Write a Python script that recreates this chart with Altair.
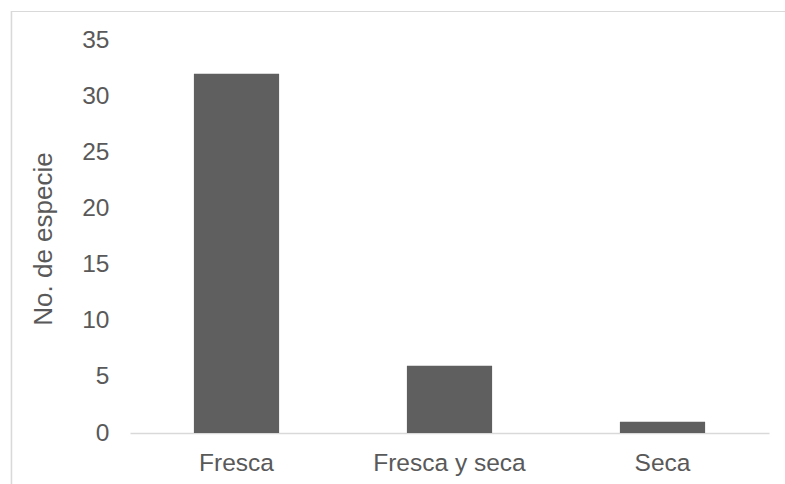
import altair as alt
import pandas as pd

# Number of species by condition
categorias = ["Fresca", "Fresca y seca", "Seca"]
especies = [32, 6, 1]
ticks_y = [0, 5, 10, 15, 20, 25, 30, 35]

df = pd.DataFrame({"categoria": categorias, "especies": especies})

TEXT = "#595959"
FONT = "Liberation Sans"

bars = alt.Chart(df).mark_bar(color="#5f5f5f").encode(
    x=alt.X(
        "categoria:N",
        sort=categorias,
        title=None,
        scale=alt.Scale(paddingInner=0.6, paddingOuter=0.3),
        axis=alt.Axis(
            labelAngle=0,
            ticks=False,
            tickSize=0,
            labelPadding=18.5,
            labelFontSize=24.5,
            labelColor=TEXT,
            labelFont=FONT,
            domainColor="#d9d9d9",
            domainWidth=1.6,
            grid=False,
        ),
    ),
    y=alt.Y(
        "especies:Q",
        title="No. de especie",
        scale=alt.Scale(domain=[0, 35], nice=False),
        axis=alt.Axis(
            values=ticks_y,
            ticks=False,
            tickSize=0,
            domain=False,
            grid=False,
            labelPadding=21,
            labelFontSize=24.5,
            labelColor=TEXT,
            labelFont=FONT,
            titleFontSize=26,
            titleFontWeight="normal",
            titleColor=TEXT,
            titleFont=FONT,
            titleAngle=270,
            titleAlign="center",
            titleBaseline="alphabetic",
            titleX=-79,
            titleY=198.5,
        ),
    ),
)

# chart-area frame
frame = alt.Chart(df).mark_rect(
    fill=None, fillOpacity=0, stroke="#d9d9d9", strokeWidth=1.2
).encode(
    x=alt.value(-118.5),
    x2=alt.value(700),
    y=alt.value(-28.5),
    y2=alt.value(500),
)

chart = (
    alt.layer(frame, bars)
    .properties(
        width=639,
        height=393,
        padding={"left": 130, "top": 40, "right": 16, "bottom": 51},
        autosize=alt.AutoSizeParams(type="none"),
        background="white",
    )
    .configure_view(stroke=None)
)

chart.save("out.html", embed_options={"renderer": "svg", "actions": False})
